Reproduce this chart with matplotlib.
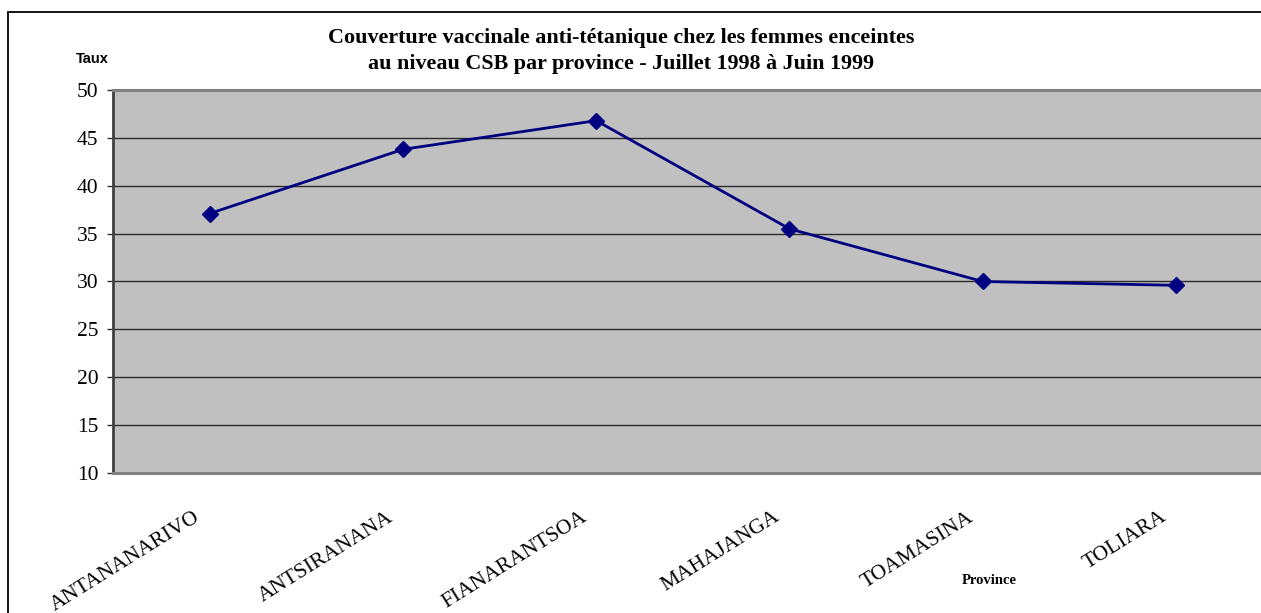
import matplotlib
matplotlib.use("Agg")
import matplotlib.pyplot as plt
import matplotlib.transforms as mtransforms
from matplotlib.patches import Rectangle

provinces = ["ANTANANARIVO", "ANTSIRANANA", "FIANARANTSOA", "MAHAJANGA", "TOAMASINA", "TOLIARA"]
taux = [37.1, 43.8, 46.8, 35.5, 30.0, 29.6]
yticks = [10, 15, 20, 25, 30, 35, 40, 45, 50]
title = "Couverture vaccinale anti-tétanique chez les femmes enceintes\nau niveau CSB par province - Juillet 1998 à Juin 1999"

W, H = 1261, 613
fig = plt.figure(figsize=(W / 100, H / 100), dpi=100)
fig.patch.set_facecolor("white")

# outer chart frame (extends beyond the canvas on the right and bottom)
fig.patches.append(Rectangle((8 / W, -0.05), 1.2, 1 - 12 / H + 0.05, transform=fig.transFigure,
                             fill=False, edgecolor="black", linewidth=1.3, zorder=0))

ax = fig.add_axes([113 / W, (H - 473) / H, (1272.7 - 113) / W, 383 / H])
ax.set_facecolor("#C0C0C0")

x = list(range(len(provinces)))
ax.plot(x, taux, color="#000080", linewidth=2.0, marker="D", markersize=8.5,
        markerfacecolor="#000080", markeredgecolor="#000080", zorder=3, clip_on=False)

ax.set_xlim(-0.5, len(provinces) - 0.5)
ax.set_ylim(10, 50)
ax.set_yticks(yticks)
ax.set_yticklabels([str(v) for v in yticks], family="Liberation Serif", fontsize=15.5)
ax.yaxis.grid(True, color="#2a2a2a", linewidth=1.0)
ax.set_axisbelow(True)
ax.tick_params(axis="y", direction="out", length=4.5, width=1, color="#333333", pad=6)

ax.set_xticks(x)
ax.set_xticklabels(provinces, family="Liberation Serif", fontsize=15.5, rotation=32,
                   ha="right", va="top", rotation_mode="anchor")
ax.tick_params(axis="x", length=0, pad=25)
offset = mtransforms.ScaledTranslation(-16 / 100, 0, fig.dpi_scale_trans)
for lab in ax.get_xticklabels():
    lab.set_transform(lab.get_transform() + offset)

for side in ["top", "bottom"]:
    ax.spines[side].set_color("#808080")
    ax.spines[side].set_linewidth(2.2)
ax.spines["left"].set_color("#404040")
ax.spines["left"].set_linewidth(2.0)
ax.spines["right"].set_visible(False)

fig.text(621 / W, 1 - 51 / H, title, ha="center", va="center", family="Liberation Serif",
         fontweight="bold", fontsize=15.8, linespacing=1.38)
fig.text(92 / W, 1 - 59 / H, "Taux", ha="center", va="center", family="Liberation Sans",
         fontweight="bold", fontsize=10.5)
fig.text(989 / W, 1 - 580 / H, "Province", ha="center", va="center", family="Liberation Serif",
         fontweight="bold", fontsize=10.5)

fig.savefig("out.png", dpi=100)
